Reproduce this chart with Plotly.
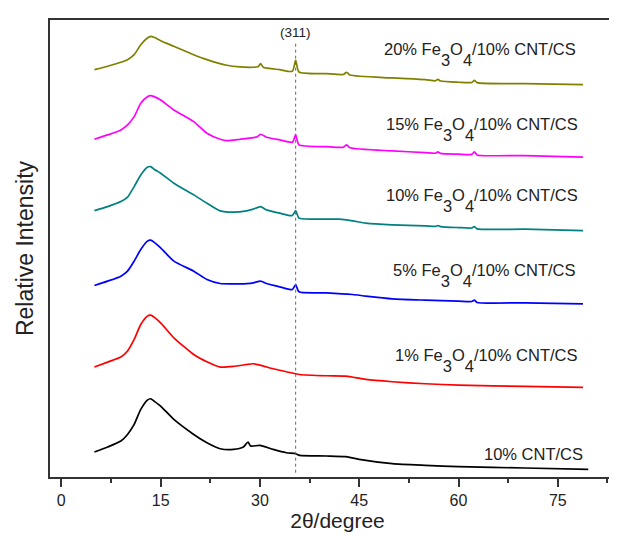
import plotly.graph_objects as go

# ---- data (2θ in degrees, intensity in arbitrary stacked units) ----
x_olive = [5, 7, 9, 10, 11, 12, 13, 13.5, 14, 15, 17, 20, 22, 25, 27, 29, 29.7, 30.1, 30.5, 33, 34.9, 35.4, 35.9, 40, 42.6, 43.1, 43.6, 50, 55, 56.5, 56.9, 57.3, 60, 62, 62.4, 62.8, 70, 78.8]
y_olive = [407.6, 411, 415, 417.6, 422.6, 432.6, 439.3, 441, 440, 436.6, 431, 422.6, 417.6, 412, 410.3, 410, 410.5, 413.6, 410, 407.6, 406, 417, 405.3, 403.6, 402.8, 405, 402.2, 399.3, 397.6, 396.5, 397.8, 396.2, 395, 394.8, 397, 394.6, 393.6, 392.6]

x_magenta = [5, 7, 9, 10, 11, 12, 13, 13.5, 14, 15, 17, 20, 22, 24, 25, 27, 29, 29.6, 30.1, 31, 33, 34.9, 35.4, 35.9, 40, 42.6, 43.1, 43.6, 50, 55, 56.5, 56.9, 57.3, 60, 62, 62.4, 62.8, 70, 78.8]
y_magenta = [338, 342.3, 347.3, 352.3, 360.6, 374, 380.6, 381.6, 380.6, 377.3, 367.3, 355.6, 344, 338, 336.6, 338, 339.6, 340.5, 343, 340, 337.3, 335, 342.3, 332.3, 330.6, 330, 332.3, 329.5, 326.3, 324.6, 324, 325.3, 323.8, 323, 322.8, 325.3, 322.3, 321.6, 320]

x_teal = [5, 7, 9, 10, 11, 12, 13, 13.5, 14, 15, 17, 20, 22, 24, 26, 28, 29, 30.1, 31, 33, 34.9, 35.4, 35.9, 38, 42, 44, 46, 50, 55, 56.5, 56.9, 57.3, 60, 62, 62.4, 62.8, 70, 78.8]
y_teal = [266.6, 270.6, 275.6, 280, 290.6, 302.3, 310, 310.6, 308, 304, 294, 282.3, 274, 266.3, 265, 266.3, 268, 270.6, 267.3, 264, 261.6, 266.6, 259, 258, 258, 256.3, 254, 252.3, 251.3, 250.8, 251.6, 250.6, 249.6, 249.2, 250.6, 248.3, 248, 246.6]

x_blue = [5, 7, 9, 10, 11, 12, 13, 13.5, 14, 15, 17, 20, 22, 24, 26, 28, 29, 30.1, 31, 33, 34.9, 35.4, 35.9, 40, 44, 46, 50, 55, 60, 62, 62.4, 62.8, 70, 78.8]
y_blue = [191.6, 196, 201, 206, 216, 227.6, 236, 237, 235, 229.3, 216, 206, 197.6, 193.6, 193.3, 193.6, 194.3, 196, 193.6, 190.3, 187.6, 192.6, 185.3, 184.3, 182.6, 181, 178.3, 177, 176, 175.6, 177, 174.6, 174.3, 173.3]

x_red = [5, 7, 9, 10, 11, 12, 13, 13.5, 14, 15, 17, 20, 22, 24, 26, 28, 29, 30, 32, 34, 36, 40, 43, 46, 50, 55, 60, 70, 78.8]
y_red = [110, 115, 120, 126, 137.6, 152.6, 161, 162, 160, 154.3, 139.3, 122.6, 115.3, 110, 110.6, 112.6, 113.3, 112, 108.3, 105.3, 102.6, 101.3, 101, 97.6, 95.3, 93.3, 92, 90.6, 89.6]

x_black = [5, 7, 9, 10, 11, 12, 13, 13.5, 14, 15, 17, 20, 22, 24, 26, 27.5, 28.2, 28.6, 30, 32, 34, 35.4, 36, 40, 43, 45, 50, 55, 60, 70, 79.6]
y_black = [25, 30, 36, 42.6, 52.6, 67.6, 77, 78.3, 76, 71, 57.6, 42.6, 34.3, 28.3, 27.6, 30, 35, 31, 31.6, 27.6, 24.3, 23.3, 21.6, 21, 20.3, 17.6, 13.3, 11.6, 10.3, 9, 7.6]

series_names = ["10% CNT/CS", "1% Fe3O4/10% CNT/CS", "5% Fe3O4/10% CNT/CS",
                "10% Fe3O4/10% CNT/CS", "15% Fe3O4/10% CNT/CS", "20% Fe3O4/10% CNT/CS"]
series_x = [x_black, x_red, x_blue, x_teal, x_magenta, x_olive]
series_y = [y_black, y_red, y_blue, y_teal, y_magenta, y_olive]
series_colors = ["#000000", "#ff0000", "#0000ff", "#008080", "#ff00ff", "#808000"]

label_html = ["10% CNT/CS"] + [
    p + "% Fe<span style='baseline-shift:-11px'>3</span>O<span style='baseline-shift:-11px'>4</span>/10% CNT/CS"
    for p in ["1", "5", "10", "15", "20"]
]
label_x = [79.1, 78.3, 78.05, 78.3, 78.3, 78.05]
label_y = [23.5, 116.8, 201.8, 276.5, 348.1, 422.8]

peak_311 = 35.4
peak_label = "(311)"

FONT = "Arial, Liberation Sans, sans-serif"

fig = go.Figure()
for xs, ys, c, n in zip(series_x, series_y, series_colors, series_names):
    fig.add_trace(go.Scatter(x=xs, y=ys, mode="lines", name=n,
                             line=dict(color=c, width=1.7, shape="spline", smoothing=0.6),
                             showlegend=False))

fig.add_shape(type="line", x0=peak_311, x1=peak_311, y0=4.3, y1=434.3,
              xref="x", yref="y", line=dict(color="#666666", width=1, dash="dot"))
fig.add_annotation(x=peak_311, y=444.3, text=peak_label, showarrow=False,
                   font=dict(family=FONT, size=13.5, color="#222222"),
                   xanchor="center", yanchor="middle")

for t, lx, ly in zip(label_html, label_x, label_y):
    fig.add_annotation(x=lx, y=ly, text=t, showarrow=False,
                       font=dict(family=FONT, size=16.5, color="#222222"),
                       xanchor="right", yanchor="middle")

fig.update_layout(
    width=617, height=537,
    margin=dict(l=42, r=0, t=12, b=68),
    paper_bgcolor="white", plot_bgcolor="white",
    font=dict(family=FONT, color="#222222"),
)
fig.update_xaxes(
    range=[-1.71, 85.15], tickmode="linear", tick0=0, dtick=15,
    ticks="outside", ticklen=8, tickwidth=1.5, tickcolor="#333333",
    minor=dict(dtick=7.5, tick0=0, ticks="outside", ticklen=4, tickwidth=1.5, tickcolor="#333333"),
    showline=True, linecolor="#333333", linewidth=1.5, mirror=True,
    showgrid=False, zeroline=False,
    tickfont=dict(family=FONT, size=16, color="#222222"),
    title=dict(text="2θ/degree", font=dict(family=FONT, size=21, color="#222222"), standoff=5),
)
fig.update_yaxes(
    range=[0, 457.3], showticklabels=False, ticks="",
    showline=True, linecolor="#333333", linewidth=1.5,
    showgrid=False, zeroline=False,
    title=dict(text="Relative Intensity", font=dict(family=FONT, size=23, color="#222222"), standoff=8),
)

fig.write_html("out.html")
